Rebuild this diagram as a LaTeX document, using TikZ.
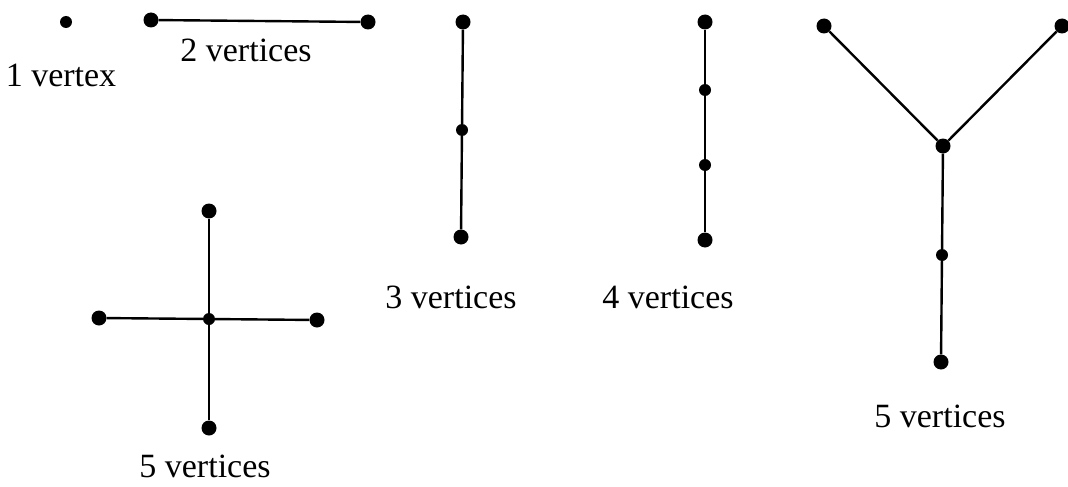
\documentclass[tikz,border=0pt]{standalone}
\usepackage{fontspec}
\setmainfont{Liberation Serif}
\begin{document}
\begin{tikzpicture}[x=1pt,y=-1pt,
  big/.style={circle,fill=black,inner sep=0pt,minimum size=15pt},
  small/.style={circle,fill=black,inner sep=0pt,minimum size=12pt},
  edge/.style={line width=2.4pt},
  lbl/.style={font=\fontsize{34}{40}\selectfont,inner sep=0pt}]
\useasboundingbox (0,0) rectangle (1068,487);
% 1 vertex
\node[small] (a1) at (66,22) {};
\node[lbl] (la) at (61,75) {1 vertex};
% 2 vertices
\node[big] (b1) at (151,20) {};
\node[big] (b2) at (368,22) {};
\draw[edge] (b1) -- (b2);
\node[lbl] (lb) at (246,50) {2 vertices};
% 3 vertices
\node[big] (c1) at (463,22) {};
\node[small] (c2) at (462,130) {};
\node[big] (c3) at (461,237) {};
\draw[edge] (c1) -- (c2) -- (c3);
\node[lbl] (lc) at (451,297) {3 vertices};
% 4 vertices
\node[big] (d1) at (705,22) {};
\node[small] (d2) at (705,90) {};
\node[small] (d3) at (705,165) {};
\node[big] (d4) at (705,240) {};
\draw[edge] (d1) -- (d2) -- (d3) -- (d4);
\node[lbl] (ld) at (668,297) {4 vertices};
% Y tree
\node[big] (e1) at (824,26) {};
\node[big] (e2) at (1062,26) {};
\node[big] (e3) at (943,146) {};
\node[small] (e4) at (942,255) {};
\node[big] (e5) at (941,362) {};
\draw[edge] (e1) -- (e3) -- (e2);
\draw[edge] (e3) -- (e4) -- (e5);
\node[lbl] (le) at (940,416) {5 vertices};
% cross
\node[small] (f0) at (209,319) {};
\node[big] (f1) at (209,211) {};
\node[big] (f2) at (99,318) {};
\node[big] (f3) at (317,320) {};
\node[big] (f4) at (209,428) {};
\draw[edge] (f0) -- (f1);
\draw[edge] (f0) -- (f2);
\draw[edge] (f0) -- (f3);
\draw[edge] (f0) -- (f4);
\node[lbl] (lf) at (205,466) {5 vertices};
\end{tikzpicture}
\end{document}
